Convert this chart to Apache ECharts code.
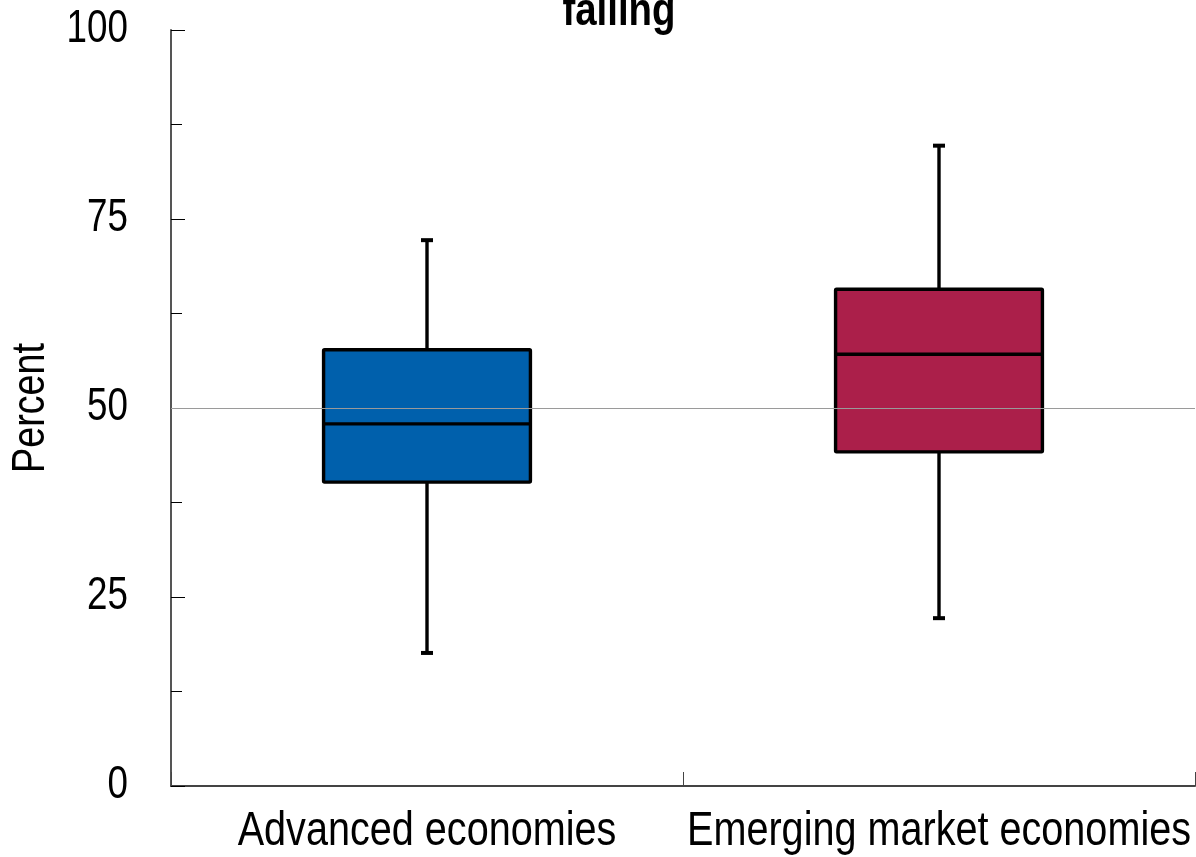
<!DOCTYPE html>
<html>
<head>
<meta charset="utf-8">
<script src="https://cdn.jsdelivr.net/npm/echarts@6/dist/echarts.min.js"></script>
<style>
html,body{margin:0;padding:0;background:#fff;}
#chart{width:1196px;height:857px;}
</style>
</head>
<body>
<div id="chart"></div>
<script>
var categories = ['Advanced economies', 'Emerging market economies'];
var mins    = [17.6, 22.2];
var q1s     = [40.2, 44.2];
var medians = [47.9, 57.1];
var q3s     = [57.7, 65.7];
var maxs    = [72.2, 84.7];
var boxColors = ['#0060AC', '#AB1F4A'];
var yTicks = [0, 25, 50, 75, 100];
var refLine = 50;
var titleText = 'falling';
var yAxisName = 'Percent';

var FONT = '"Liberation Sans", Arial, sans-serif';
var GRID = {left: 171, right: 1, top: 30, bottom: 71};

var data = categories.map(function (c, i) {
  return [i, mins[i], q1s[i], medians[i], q3s[i], maxs[i]];
});

function renderItem(params, api) {
  var i = api.value(0);
  var pMin = api.coord([i, api.value(1)]);
  var pQ1 = api.coord([i, api.value(2)]);
  var pMed = api.coord([i, api.value(3)]);
  var pQ3 = api.coord([i, api.value(4)]);
  var pMax = api.coord([i, api.value(5)]);
  var bw = api.size([1, 0])[0] * 0.404;
  var cx = pMed[0];
  var capW = 12;
  var lw = 3.4;
  var stroke = {stroke: '#000', lineWidth: lw};
  return {
    type: 'group',
    children: [
      {type: 'line', shape: {x1: cx, y1: pMax[1], x2: cx, y2: pQ3[1]}, style: stroke},
      {type: 'line', shape: {x1: cx, y1: pQ1[1], x2: cx, y2: pMin[1]}, style: stroke},
      {type: 'line', shape: {x1: cx - capW / 2, y1: pMax[1], x2: cx + capW / 2, y2: pMax[1]}, style: {stroke: '#000', lineWidth: 4}},
      {type: 'line', shape: {x1: cx - capW / 2, y1: pMin[1], x2: cx + capW / 2, y2: pMin[1]}, style: {stroke: '#000', lineWidth: 4}},
      {type: 'rect', shape: {x: cx - bw / 2, y: pQ3[1], width: bw, height: pQ1[1] - pQ3[1], r: 1},
        style: {fill: boxColors[i], stroke: '#000', lineWidth: lw}},
      {type: 'line', shape: {x1: cx - bw / 2, y1: pMed[1], x2: cx + bw / 2, y2: pMed[1]}, style: stroke}
    ]
  };
}

var chart = echarts.init(document.getElementById('chart'), null, {renderer: 'canvas'});
chart.setOption({
  animation: false,
  backgroundColor: '#fff',
  grid: {left: GRID.left, right: GRID.right, top: GRID.top, bottom: GRID.bottom, containLabel: false, outerBoundsMode: 'none'},
  xAxis: {
    type: 'category',
    data: categories,
    boundaryGap: true,
    axisLine: {lineStyle: {color: '#444', width: 2}},
    axisTick: {show: true, inside: true, length: 14, alignWithLabel: false, lineStyle: {color: '#444', width: 1}},
    axisLabel: {show: false},
    splitLine: {show: false}
  },
  yAxis: {
    type: 'value',
    min: 0, max: 100, interval: 25,
    axisLine: {show: true, lineStyle: {color: '#555', width: 2}},
    axisTick: {show: true, inside: true, length: 14, lineStyle: {color: '#000', width: 1}},
    minorTick: {show: true, splitNumber: 2, length: 11, lineStyle: {color: '#000', width: 1}},
    axisLabel: {show: false},
    splitLine: {show: false}
  },
  series: [{
    type: 'custom',
    renderItem: renderItem,
    data: data,
    encode: {x: 0, y: [1, 2, 3, 4, 5]},
    z: 2,
    markLine: {
      silent: true,
      symbol: ['none', 'none'],
      label: {show: false},
      lineStyle: {color: '#9a9a9a', width: 1, type: 'solid'},
      data: [{yAxis: refLine}]
    }
  }]
});

// Condensed (narrow) labels: positions come from the chart's own scales.
var graphics = [];
var axisBottom = chart.convertToPixel({yAxisIndex: 0}, 0);
var axisTop = chart.convertToPixel({yAxisIndex: 0}, 100);
categories.forEach(function (c, i) {
  var x = chart.convertToPixel({xAxisIndex: 0}, i);
  graphics.push({
    type: 'text', x: x, y: axisBottom + 46, scaleX: 0.825, silent: true,
    style: {text: c, x: 0, y: 0, align: 'center', verticalAlign: 'middle',
      font: '48px ' + FONT, fill: '#000'}
  });
});
yTicks.forEach(function (v) {
  var y = chart.convertToPixel({yAxisIndex: 0}, v);
  graphics.push({
    type: 'text', x: GRID.left - 43, y: y - 1, scaleX: 0.80, silent: true,
    style: {text: String(v), x: 0, y: 0, align: 'right', verticalAlign: 'middle',
      font: '46px ' + FONT, fill: '#000'}
  });
});
graphics.push({
  type: 'text', x: 31, y: (axisTop + axisBottom) / 2, rotation: Math.PI / 2, scaleX: 0.82, silent: true,
  style: {text: yAxisName, x: 0, y: 0, align: 'center', verticalAlign: 'middle',
    font: '46px ' + FONT, fill: '#000'}
});
graphics.push({
  type: 'text', x: 619, y: 12, scaleX: 0.835, silent: true,
  style: {text: titleText, x: 0, y: 0, align: 'center', verticalAlign: 'middle',
    font: 'bold 46px ' + FONT, fill: '#000'}
});
chart.setOption({graphic: graphics});
</script>
</body>
</html>
